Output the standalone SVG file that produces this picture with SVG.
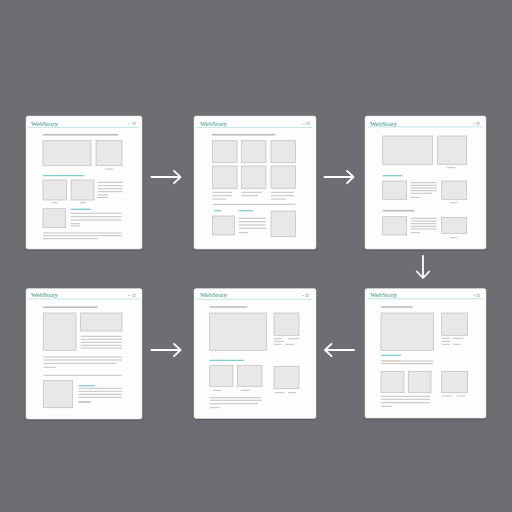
<svg xmlns="http://www.w3.org/2000/svg" width="512" height="512" viewBox="0 0 512 512">
<defs>
<style>
.panel{fill:#fdfdfd;stroke:#d8d8d8;stroke-width:0.5}
.box{fill:#e8e8e8;stroke:#bdbdbd;stroke-width:0.7}
.ln{stroke:#c2c2c2;stroke-width:1;fill:none}
.hd{stroke:#b8b8b8;stroke-width:1.5;fill:none}
.tl{stroke:#80ccd3;stroke-width:1.3;fill:none}
.bar{stroke:#a9dfe2;stroke-width:0.7;fill:none}
.ic{stroke:#b5b5b5;stroke-width:0.7;fill:none}
.logo{font-family:"Liberation Serif",serif;font-size:6.8px;fill:#2f8f80}
.arr{stroke:#ffffff;stroke-width:1.8;fill:none;stroke-linecap:round;stroke-linejoin:round}
</style>
<filter id="sh" x="-10%" y="-10%" width="120%" height="120%">
<feDropShadow dx="0" dy="1" stdDeviation="1" flood-color="#000" flood-opacity="0.25"/>
</filter>
</defs>
<rect width="512" height="512" fill="#6c6e72"/>

<g id="panel1">
<rect class="panel" x="26" y="116" width="116" height="133" rx="2" filter="url(#sh)"/>
<text class="logo" x="31" y="125.5">WebStory</text>
<line class="ic" x1="128" y1="123.5" x2="130" y2="123.5"/><rect class="ic" x="133" y="122.3" width="2.2" height="2.2"/>
<line class="bar" x1="28" y1="127.5" x2="139" y2="127.5"/>
<line class="hd" x1="43" y1="134.7" x2="118" y2="134.7"/>
<rect class="box" x="43" y="140.7" width="48" height="25"/>
<rect class="box" x="96" y="140.7" width="26" height="25"/>
<line class="ln" x1="105" y1="169" x2="113" y2="169"/>
<line class="tl" x1="43" y1="175.7" x2="84" y2="175.7"/>
<rect class="box" x="43" y="180" width="23.7" height="20"/>
<rect class="box" x="71" y="180" width="23" height="20"/>
<line class="ln" x1="52" y1="202.7" x2="58" y2="202.7"/>
<line class="ln" x1="80" y1="202.7" x2="86" y2="202.7"/>
<line class="ln" x1="97.7" y1="182.3" x2="122.7" y2="182.3"/>
<line class="ln" x1="97.7" y1="185.7" x2="122.7" y2="185.7"/>
<line class="ln" x1="97.7" y1="188.7" x2="122.7" y2="188.7"/>
<line class="ln" x1="97.7" y1="191.7" x2="122.7" y2="191.7"/>
<line class="ln" x1="97.7" y1="195" x2="108" y2="195"/>
<line class="ln" x1="97.7" y1="197.5" x2="108" y2="197.5"/>
<rect class="box" x="43" y="208.7" width="22.7" height="19"/>
<line class="tl" x1="70.7" y1="209.3" x2="91" y2="209.3"/>
<line class="ln" x1="70.7" y1="213.3" x2="121.7" y2="213.3"/>
<line class="ln" x1="70.7" y1="216.7" x2="121.7" y2="216.7"/>
<line class="ln" x1="70.7" y1="220" x2="121.7" y2="220"/>
<line class="ln" x1="70.7" y1="223.7" x2="80" y2="223.7"/>
<line class="ln" x1="70.7" y1="225.9" x2="80" y2="225.9"/>
<line class="ln" x1="43" y1="233" x2="121.7" y2="233"/>
<line class="ln" x1="43" y1="235.7" x2="121.7" y2="235.7"/>
<line class="ln" x1="43" y1="238.7" x2="98" y2="238.7"/>
</g>

<g id="panel2">
<rect class="panel" x="194" y="116" width="122" height="133" rx="2" filter="url(#sh)"/>
<text class="logo" x="200" y="125.5">WebStory</text>
<line class="ic" x1="303" y1="123.5" x2="305" y2="123.5"/><rect class="ic" x="307" y="122.3" width="2.2" height="2.2"/>
<line class="bar" x1="196" y1="127.5" x2="312" y2="127.5"/>
<line class="hd" x1="212" y1="134.7" x2="275" y2="134.7"/>
<rect class="box" x="212.3" y="140.7" width="24.7" height="22"/>
<rect class="box" x="241.3" y="140.7" width="24.7" height="22"/>
<rect class="box" x="271" y="140.7" width="24.3" height="22"/>
<rect class="box" x="212.3" y="166" width="24.7" height="22.3"/>
<rect class="box" x="241.3" y="166" width="24.7" height="22.3"/>
<rect class="box" x="271" y="166" width="24.3" height="22.3"/>
<line class="ln" x1="212.3" y1="192.3" x2="232" y2="192.3"/>
<line class="ln" x1="212.3" y1="195.7" x2="232" y2="195.7"/>
<line class="ln" x1="212.3" y1="199" x2="226" y2="199"/>
<line class="ln" x1="241.3" y1="192.3" x2="262" y2="192.3"/>
<line class="ln" x1="241.3" y1="195.7" x2="258" y2="195.7"/>
<line class="ln" x1="271" y1="192.3" x2="294" y2="192.3"/>
<line class="ln" x1="271" y1="195.7" x2="294" y2="195.7"/>
<line class="ln" x1="271" y1="199" x2="286" y2="199"/>
<line class="ln" x1="212.3" y1="204.3" x2="295.3" y2="204.3"/>
<line class="tl" x1="214" y1="210.7" x2="221" y2="210.7"/>
<line class="tl" x1="238.7" y1="210.7" x2="253" y2="210.7"/>
<rect class="box" x="212.3" y="216" width="22.4" height="19"/>
<line class="ln" x1="238.7" y1="218.3" x2="266" y2="218.3"/>
<line class="ln" x1="238.7" y1="221.7" x2="266" y2="221.7"/>
<line class="ln" x1="238.7" y1="225" x2="266" y2="225"/>
<line class="ln" x1="238.7" y1="228.3" x2="266" y2="228.3"/>
<line class="ln" x1="238.7" y1="232.7" x2="248" y2="232.7"/>
<rect class="box" x="271" y="211" width="24.3" height="25.7"/>
</g>

<g id="panel3">
<rect class="panel" x="365" y="116" width="121" height="133" rx="2" filter="url(#sh)"/>
<text class="logo" x="370" y="125.5">WebStory</text>
<line class="ic" x1="473" y1="123.3" x2="475" y2="123.3"/><rect class="ic" x="477" y="122.2" width="2.2" height="2.2"/>
<line class="bar" x1="367" y1="126.9" x2="483" y2="126.9"/>
<rect class="box" x="382.7" y="136" width="50" height="28.3"/>
<rect class="box" x="437.3" y="136" width="29.4" height="28.3"/>
<line class="ln" x1="447" y1="167.7" x2="455" y2="167.7"/>
<line class="tl" x1="382.7" y1="175.7" x2="402.3" y2="175.7"/>
<rect class="box" x="382.7" y="181" width="24" height="18.3"/>
<line class="ln" x1="410.7" y1="182.7" x2="436.7" y2="182.7"/>
<line class="ln" x1="410.7" y1="185.3" x2="436.7" y2="185.3"/>
<line class="ln" x1="410.7" y1="188" x2="436.7" y2="188"/>
<line class="ln" x1="410.7" y1="190.7" x2="436.7" y2="190.7"/>
<line class="ln" x1="410.7" y1="193.3" x2="432" y2="193.3"/>
<line class="ln" x1="410.7" y1="197.3" x2="420" y2="197.3"/>
<rect class="box" x="441.7" y="181" width="25" height="18.3"/>
<line class="ln" x1="450" y1="202.7" x2="457" y2="202.7"/>
<line class="hd" x1="382.7" y1="210.7" x2="414" y2="210.7"/>
<rect class="box" x="382.7" y="216.7" width="24" height="18.3"/>
<line class="ln" x1="410.7" y1="218.3" x2="436.7" y2="218.3"/>
<line class="ln" x1="410.7" y1="221" x2="436.7" y2="221"/>
<line class="ln" x1="410.7" y1="223.7" x2="436.7" y2="223.7"/>
<line class="ln" x1="410.7" y1="226.3" x2="436.7" y2="226.3"/>
<line class="ln" x1="410.7" y1="229" x2="436.7" y2="229"/>
<line class="ln" x1="410.7" y1="232.7" x2="420" y2="232.7"/>
<rect class="box" x="441.7" y="217.3" width="25" height="16"/>
<line class="ln" x1="450" y1="237.7" x2="457" y2="237.7"/>
</g>

<g id="panel4">
<rect class="panel" x="26" y="288.5" width="116" height="130.5" rx="2" filter="url(#sh)"/>
<text class="logo" x="31" y="297">WebStory</text>
<line class="ic" x1="128" y1="295.5" x2="130" y2="295.5"/><rect class="ic" x="133" y="294.3" width="2.2" height="2.2"/>
<line class="bar" x1="28" y1="298.9" x2="139" y2="298.9"/>
<line class="hd" x1="43.3" y1="307.3" x2="97.3" y2="307.3"/>
<rect class="box" x="43.3" y="313" width="32.7" height="37.3"/>
<rect class="box" x="80.7" y="313" width="41.3" height="18"/>
<line class="ln" x1="80.7" y1="336.3" x2="122" y2="336.3"/>
<line class="ln" x1="80.7" y1="339.3" x2="122" y2="339.3"/>
<line class="ln" x1="80.7" y1="342.3" x2="122" y2="342.3"/>
<line class="ln" x1="80.7" y1="345.3" x2="122" y2="345.3"/>
<line class="ln" x1="80.7" y1="348" x2="122" y2="348"/>
<line class="ln" x1="43.3" y1="357" x2="122" y2="357"/>
<line class="ln" x1="43.3" y1="360" x2="122" y2="360"/>
<line class="ln" x1="43.3" y1="363.3" x2="116.7" y2="363.3"/>
<line class="ln" x1="43.3" y1="367.3" x2="56" y2="367.3"/>
<line class="ln" x1="43.3" y1="375.3" x2="122" y2="375.3"/>
<rect class="box" x="43.3" y="380.7" width="29.4" height="27"/>
<line class="tl" x1="78.7" y1="385.7" x2="95" y2="385.7"/>
<line class="ln" x1="78.7" y1="388.3" x2="122" y2="388.3"/>
<line class="ln" x1="78.7" y1="391.3" x2="122" y2="391.3"/>
<line class="ln" x1="78.7" y1="394.3" x2="122" y2="394.3"/>
<line class="ln" x1="78.7" y1="397.3" x2="122" y2="397.3"/>
<line class="hd" x1="78.7" y1="402" x2="90.7" y2="402"/>
</g>

<g id="panel5">
<rect class="panel" x="194" y="288.5" width="122" height="130" rx="2" filter="url(#sh)"/>
<text class="logo" x="200" y="297">WebStory</text>
<line class="ic" x1="302" y1="295.5" x2="304" y2="295.5"/><rect class="ic" x="306" y="294.3" width="2.2" height="2.2"/>
<line class="bar" x1="196" y1="299.3" x2="312" y2="299.3"/>
<line class="hd" x1="209.7" y1="307" x2="247.3" y2="307"/>
<rect class="box" x="209.7" y="313" width="56.6" height="37.3"/>
<rect class="box" x="274" y="313" width="25" height="22.3"/>
<line class="ln" x1="274" y1="338.7" x2="282" y2="338.7"/>
<line class="ln" x1="288" y1="338.7" x2="299" y2="338.7"/>
<line class="ln" x1="274" y1="341.3" x2="284" y2="341.3"/>
<line class="ln" x1="274" y1="344.3" x2="281.3" y2="344.3"/>
<line class="ln" x1="285.3" y1="344.3" x2="294" y2="344.3"/>
<line class="tl" x1="209.7" y1="360.3" x2="244" y2="360.3"/>
<rect class="box" x="209.7" y="365.3" width="23.3" height="21"/>
<rect class="box" x="237.3" y="365.3" width="24.7" height="21"/>
<line class="ln" x1="213" y1="390.3" x2="221.3" y2="390.3"/>
<line class="ln" x1="241.3" y1="390.3" x2="249.7" y2="390.3"/>
<rect class="box" x="274" y="366.3" width="25" height="22.4"/>
<line class="ln" x1="274.7" y1="392.7" x2="284.7" y2="392.7"/>
<line class="ln" x1="288" y1="392.7" x2="296.3" y2="392.7"/>
<line class="ln" x1="209.7" y1="397.7" x2="261.3" y2="397.7"/>
<line class="ln" x1="209.7" y1="400.3" x2="262" y2="400.3"/>
<line class="ln" x1="209.7" y1="403.7" x2="258" y2="403.7"/>
<line class="ln" x1="209.7" y1="407.7" x2="219.7" y2="407.7"/>
</g>

<g id="panel6">
<rect class="panel" x="365" y="288.5" width="121" height="129.5" rx="2" filter="url(#sh)"/>
<text class="logo" x="370" y="297">WebStory</text>
<line class="ic" x1="473" y1="295.3" x2="475" y2="295.3"/><rect class="ic" x="477" y="294.2" width="2.2" height="2.2"/>
<line class="bar" x1="367" y1="298.7" x2="483" y2="298.7"/>
<line class="hd" x1="381" y1="307" x2="412.7" y2="307"/>
<rect class="box" x="381" y="313" width="52.3" height="37.3"/>
<rect class="box" x="441.7" y="313" width="25.6" height="22.3"/>
<line class="ln" x1="441.7" y1="338.3" x2="450" y2="338.3"/>
<line class="ln" x1="452.7" y1="338.3" x2="463.3" y2="338.3"/>
<line class="ln" x1="441.7" y1="341.3" x2="450" y2="341.3"/>
<line class="ln" x1="441.7" y1="344.3" x2="450" y2="344.3"/>
<line class="ln" x1="452.7" y1="344.3" x2="460" y2="344.3"/>
<line class="tl" x1="381" y1="355.3" x2="401" y2="355.3"/>
<line class="ln" x1="381" y1="361" x2="433.3" y2="361"/>
<line class="tl" x1="381" y1="361" x2="400" y2="361" style="stroke-width:0.8;stroke:#e3c2b5"/>
<line class="ln" x1="381" y1="363.7" x2="433.3" y2="363.7"/>
<rect class="box" x="381" y="371.3" width="23" height="21.4"/>
<rect class="box" x="408.3" y="371.3" width="22.7" height="21.4"/>
<rect class="box" x="441.7" y="371.3" width="25.6" height="21.4"/>
<line class="ln" x1="441.7" y1="396" x2="451.7" y2="396"/>
<line class="ln" x1="456.7" y1="396" x2="465" y2="396"/>
<line class="ln" x1="381" y1="396.3" x2="430" y2="396.3"/>
<line class="ln" x1="381" y1="399.3" x2="430" y2="399.3"/>
<line class="ln" x1="381" y1="402.7" x2="430" y2="402.7"/>
<line class="ln" x1="381" y1="406.3" x2="391.7" y2="406.3"/>
</g>

<g id="connectors">
<path class="arr" d="M151.5 177 H180.5 M174 170.8 L180.5 177 L174 183.2"/>
<path class="arr" d="M324.5 177 H353.5 M347 170.8 L353.5 177 L347 183.2"/>
<path class="arr" d="M423 256 V278 M416.8 271.5 L423 278 L429.2 271.5"/>
<path class="arr" d="M151.5 350 H180.5 M174 343.8 L180.5 350 L174 356.2"/>
<path class="arr" d="M354 350 H325 M331.5 343.8 L325 350 L331.5 356.2"/>
</g>
</svg>
